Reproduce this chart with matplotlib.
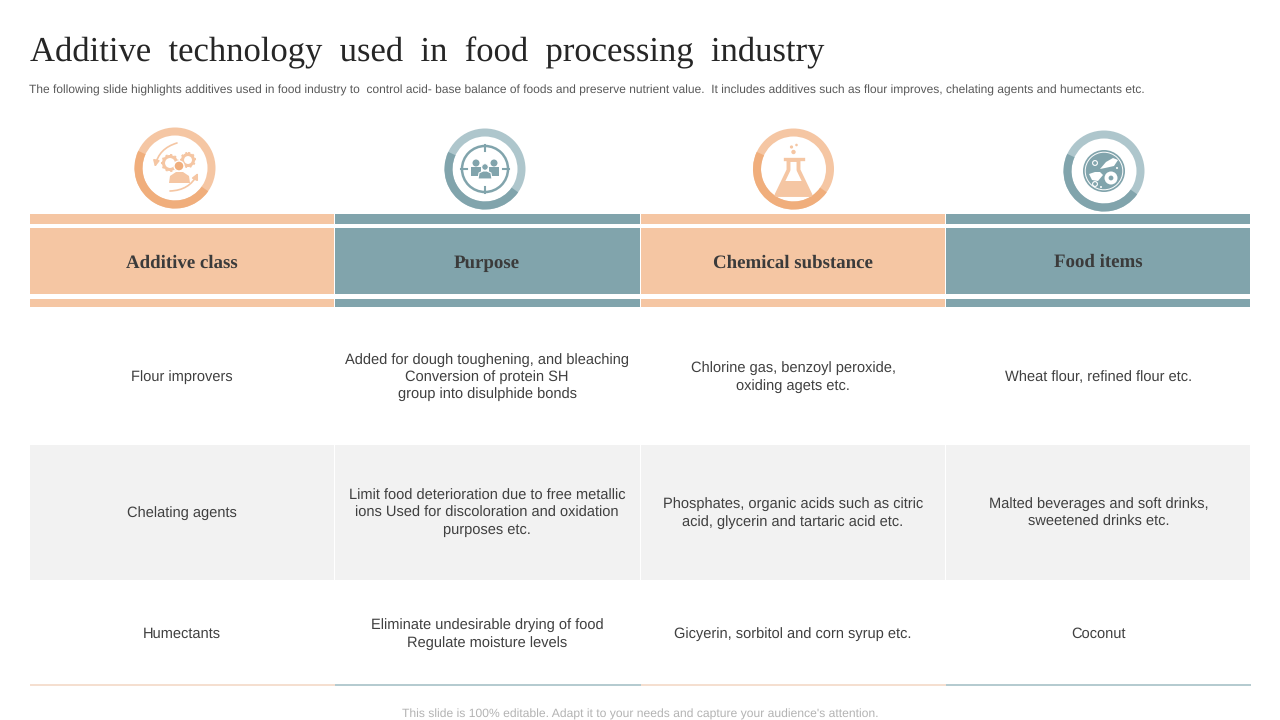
import matplotlib
matplotlib.use('Agg')
import matplotlib.pyplot as plt
from matplotlib.patches import Rectangle, Circle, Wedge, Polygon, FancyArrowPatch

plt.rcParams['text.hinting'] = 'no_hinting'

title = 'Additive  technology  used  in  food  processing  industry'
subtitle = ('The following slide highlights additives used in food industry to  control acid- base balance of foods '
            'and preserve nutrient value.  It includes additives such as flour improves, chelating agents and humectants etc.')
footer = "This slide is 100% editable. Adapt it to your needs and capture your audience's attention."

headers = ['Additive class', 'Purpose', 'Chemical substance', 'Food items']
col_class = ['Flour improvers', 'Chelating agents', 'Humectants']
col_purpose = ['Added for dough toughening, and bleaching\nConversion of protein SH\ngroup into disulphide bonds',
               'Limit food deterioration due to free metallic\nions Used for discoloration and oxidation\npurposes etc.',
               'Eliminate undesirable drying of food\nRegulate moisture levels']
col_chem = ['Chlorine gas, benzoyl peroxide,\noxiding agets etc.',
            'Phosphates, organic acids such as citric\nacid, glycerin and tartaric acid etc.',
            'Gicyerin, sorbitol and corn syrup etc.']
col_food = ['Wheat flour, refined flour etc.',
            'Malted beverages and soft drinks,\nsweetened drinks etc.',
            'Coconut']

ORANGE = '#f5c6a3'
ORANGE_D = '#f0ae7c'
TEAL = '#81a4ac'
TEAL_L = '#aec6cc'
TXT = '#404040'

col_x = [29.5, 335, 640.5, 946, 1251]
row_y = [444.5, 579.5]
text_y = [377, 513, 634]
text_x = [181.5, 487, 793, 1098.5]
icon_c = [(175, 168), (485, 169), (793.5, 169), (1104, 171)]

fig = plt.figure(figsize=(12.8, 7.2), dpi=100)
ax = fig.add_axes([0, 0, 1, 1])
ax.set_xlim(0, 1280)
ax.set_ylim(720, 0)
ax.axis('off')

ax.text(30, 53, title, fontsize=24.95, family='Liberation Serif', color='#262626', va='center', ha='left')
ax.text(29, 90.5, subtitle, fontsize=8.67, family='Liberation Sans', color='#595959', va='center', ha='left')

# header bands
for i, h in enumerate(headers):
    c = ORANGE if i % 2 == 0 else TEAL
    x0, x1 = col_x[i], col_x[i + 1]
    w = x1 - x0 - 0.8
    ax.add_patch(Rectangle((x0, 214), w, 10, fc=c, ec='none'))
    ax.add_patch(Rectangle((x0, 228), w, 66, fc=c, ec='none'))
    ax.add_patch(Rectangle((x0, 299), w, 8, fc=c, ec='none'))
    ty = 262.5 if i == 3 else 263.5
    ax.text(text_x[i], ty, h, fontsize=13.6, fontweight='bold', family='Liberation Serif',
            color='#3b3b3b', ha='center', va='center')
    # bottom rule
    ax.add_patch(Rectangle((x0, 684), x1 - x0, 2.2, fc='#f5dfd0' if i % 2 == 0 else '#b5cbd0', ec='none'))

# grey middle row
for i in range(4):
    ax.add_patch(Rectangle((col_x[i], row_y[0]), col_x[i + 1] - col_x[i] - 1, row_y[1] - row_y[0], fc='#f2f2f2', ec='none'))

# table text
for i, col in enumerate([col_class, col_purpose, col_chem, col_food]):
    for j, s in enumerate(col):
        ax.text(text_x[i], text_y[j], s, fontsize=10.5, family='Liberation Sans', color=TXT,
                ha='center', va='center', linespacing=1.3)


def ring(cx, cy, light, dark):
    # matplotlib angles run flipped here because the y axis is inverted
    ax.add_patch(Wedge((cx, cy), 40.5, 0, 360, width=8, fc=light, ec='none'))
    ax.add_patch(Wedge((cx, cy), 40.5, 35, 205, width=8, fc=dark, ec='none'))


for i, (cx, cy) in enumerate(icon_c):
    ring(cx, cy, ORANGE if i % 2 == 0 else TEAL_L, ORANGE_D if i % 2 == 0 else TEAL)

# icon 1: person, gears and arrows
cx, cy = icon_c[0]
for dx, dy, r in [(-5, -5, 6.5), (13, -8, 5.5)]:
    ax.add_patch(Circle((cx + dx, cy + dy), r, fc='white', ec=ORANGE, lw=2.2))
    ax.add_patch(Circle((cx + dx, cy + dy), r + 1.5, fc='none', ec=ORANGE, lw=1.5, ls=(0, (1, 1.2))))
ax.add_patch(Circle((cx + 4, cy - 2), 5, fc=ORANGE_D, ec='white', lw=1))
ax.add_patch(Polygon([(cx - 6, cy + 15), (cx - 5, cy + 8), (cx + 1, cy + 4), (cx + 8, cy + 4),
                      (cx + 14, cy + 8), (cx + 15, cy + 15)], closed=True, fc=ORANGE, ec='none'))
ax.add_patch(FancyArrowPatch((cx + 2, cy - 25), (cx - 20, cy - 1), connectionstyle='arc3,rad=0.3',
                             arrowstyle='-|>', mutation_scale=9, color=ORANGE, lw=1.2, shrinkA=0, shrinkB=0))
ax.add_patch(FancyArrowPatch((cx - 5, cy + 23), (cx + 23, cy + 5), connectionstyle='arc3,rad=0.3',
                             arrowstyle='-|>', mutation_scale=9, color=ORANGE, lw=1.2, shrinkA=0, shrinkB=0))

# icon 2: target with group of people
cx, cy = icon_c[1]
ax.add_patch(Circle((cx, cy), 23, fc='none', ec=TEAL, lw=1.8))
for a, b, c, d in [(0, -24, 0, -18), (0, 18, 0, 24), (-24, 0, -18, 0), (18, 0, 24, 0)]:
    ax.plot([cx + a, cx + c], [cy + b, cy + d], color=TEAL, lw=1.5)
for dx, dy, r in [(-9, -6, 3.5), (9, -6, 3.5)]:
    ax.add_patch(Circle((cx + dx, cy + dy), r, fc=TEAL, ec='none'))
    ax.add_patch(Rectangle((cx + dx - 5, cy + dy + 4), 10, 9, fc=TEAL, ec='none'))
ax.add_patch(Circle((cx, cy - 2), 3.2, fc=TEAL, ec='white', lw=0.6))
ax.add_patch(Polygon([(cx - 7, cy + 10), (cx - 6, cy + 4), (cx - 2, cy + 2), (cx + 2, cy + 2), (cx + 6, cy + 4), (cx + 7, cy + 10)],
                     closed=True, fc=TEAL, ec='white', lw=0.8))

# icon 3: flask
cx, cy = icon_c[2]
ax.add_patch(Polygon([(cx - 5, cy - 9), (cx - 5, cy + 1), (cx - 17, cy + 26), (cx + 17, cy + 26),
                      (cx + 5, cy + 1), (cx + 5, cy - 9)], closed=True, fc='white', ec=ORANGE, lw=2.8, joinstyle='round'))
ax.add_patch(Polygon([(cx - 10, cy + 12), (cx + 10, cy + 12), (cx + 16, cy + 26), (cx - 16, cy + 26)],
                     closed=True, fc=ORANGE, ec='none'))
ax.plot([cx - 9, cx + 9], [cy - 10, cy - 10], color=ORANGE, lw=2.4)
for dx, dy, r in [(0, -17, 2.2), (-2, -22, 1.6), (3, -24, 1.3)]:
    ax.add_patch(Circle((cx + dx, cy + dy), r, fc=ORANGE, ec='none'))

# icon 4: plate of food
cx, cy = icon_c[3]
ax.add_patch(Circle((cx, cy), 21, fc=TEAL, ec='none'))
ax.add_patch(Circle((cx, cy), 18.8, fc='none', ec='white', lw=0.7))
ax.add_patch(Polygon([(cx - 4, cy - 2), (cx + 2, cy - 9), (cx + 9, cy - 13), (cx + 14, cy - 11), (cx + 10, cy - 5), (cx + 1, cy - 3)],
                     closed=True, fc='white', ec='none'))
ax.add_patch(Circle((cx + 7, cy + 7), 6.5, fc='white', ec='none'))
ax.add_patch(Circle((cx + 7, cy + 7), 2.4, fc=TEAL, ec='none'))
ax.add_patch(Polygon([(cx - 15, cy + 3), (cx - 9, cy + 1), (cx - 4, cy + 1), (cx - 1, cy + 4), (cx - 6, cy + 10), (cx - 12, cy + 9)],
                     closed=True, fc='white', ec='none'))
for dx, dy in [(-9, -8), (-9, 13)]:
    ax.add_patch(Circle((cx + dx, cy + dy), 2.4, fc='none', ec='white', lw=0.8))
for dx, dy in [(13, -3), (-3, 16)]:
    ax.add_patch(Circle((cx + dx, cy + dy), 1, fc='white', ec='none'))

ax.text(640, 714, footer, fontsize=8.72, family='Liberation Sans', color='#b3b3b3', ha='center', va='center')

fig.savefig('out.png', dpi=100)
